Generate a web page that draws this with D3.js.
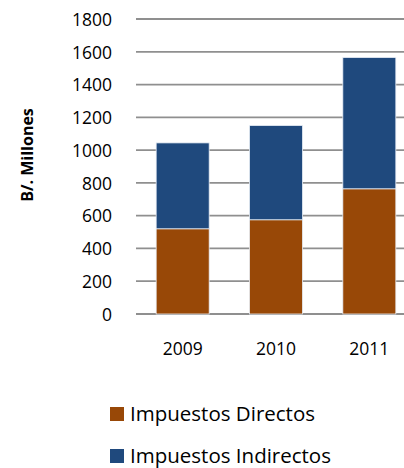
<!DOCTYPE html>
<html>
<head>
<meta charset="utf-8">
<script src="https://cdn.jsdelivr.net/npm/d3@7"></script>
<style>
  body { margin: 0; background: #fff; }
  svg { display: block; font-family: "Open Sans", sans-serif; }
</style>
</head>
<body>
<script>
var years = ["2009", "2010", "2011"];
var directos = [520, 575, 764];
var indirectos = [524, 575, 801];
var yTicks = [0, 200, 400, 600, 800, 1000, 1200, 1400, 1600, 1800];
var seriesNames = ["Impuestos Directos", "Impuestos Indirectos"];
var colors = ["#984807", "#1F497D"];

var W = 404, H = 468;
var margin = { left: 136, top: 19 };
var plotW = 280, plotH = 295;

var svg = d3.select("body").append("svg")
    .attr("width", W)
    .attr("height", H);

var x = d3.scaleBand().domain(years).range([margin.left, margin.left + plotW])
    .paddingInner(0.432).paddingOuter(0.216);
var y = d3.scaleLinear().domain([0, 1800]).range([margin.top + plotH, margin.top]);

// gridlines
svg.append("g").selectAll("line")
    .data(yTicks)
    .enter()
    .append("line")
    .attr("x1", margin.left)
    .attr("x2", W)
    .attr("y1", (d) => y(d))
    .attr("y2", (d) => y(d))
    .attr("stroke", "#8f8f8f")
    .attr("stroke-width", 1.8);

// y axis labels
var yAxis = d3.axisLeft(y).tickValues(yTicks).tickFormat(d3.format("d")).tickSize(0).tickPadding(0);
var ga = svg.append("g")
    .attr("transform", "translate(" + 112 + ",0)")
    .call(yAxis);
ga.select(".domain").remove();
ga.selectAll("text")
    .attr("font-family", "Open Sans")
    .attr("font-size", 17.5)
    .attr("fill", "#000")
    .attr("dy", "0.36em");

// stacked bars
var rows = years.map((yr, i) => ({ year: yr, d: directos[i], ind: indirectos[i] }));
var stack = d3.stack().keys(["d", "ind"])(rows);

svg.append("g").selectAll("g")
    .data(stack)
    .enter()
    .append("g")
    .attr("fill", (s, i) => colors[i])
    .selectAll("rect")
    .data((s) => s)
    .enter()
    .append("rect")
    .attr("x", (d) => x(d.data.year))
    .attr("width", x.bandwidth())
    .attr("y", (d) => y(d[1]))
    .attr("height", (d) => y(d[0]) - y(d[1]))
    .attr("stroke", "#e8eef6")
    .attr("stroke-width", 0.8);

// x labels
var xAxis = d3.axisBottom(x).tickSize(0).tickPadding(0);
var gx = svg.append("g")
    .attr("transform", "translate(0," + 355 + ")")
    .call(xAxis);
gx.select(".domain").remove();
gx.selectAll("text")
    .attr("font-family", "Open Sans")
    .attr("font-size", 17.5)
    .attr("fill", "#000")
    .attr("dy", 0);

// axis title
svg.append("text")
    .attr("transform", "translate(33,155) rotate(-90)")
    .attr("text-anchor", "middle")
    .attr("font-weight", "bold")
    .attr("font-size", 16)
    .attr("fill", "#000")
    .text("B/. Millones");

// legend
var lg = svg.append("g").selectAll("g")
    .data(seriesNames)
    .enter()
    .append("g")
    .attr("transform", (d, i) => "translate(110," + (407 + i * 42) + ")");
lg.append("rect")
    .attr("width", 14)
    .attr("height", 14)
    .attr("fill", (d, i) => colors[i]);
lg.append("text")
    .attr("x", 20)
    .attr("y", 14)
    .attr("font-size", 20.5)
    .attr("fill", "#000")
    .text((d) => d);
</script>
</body>
</html>
